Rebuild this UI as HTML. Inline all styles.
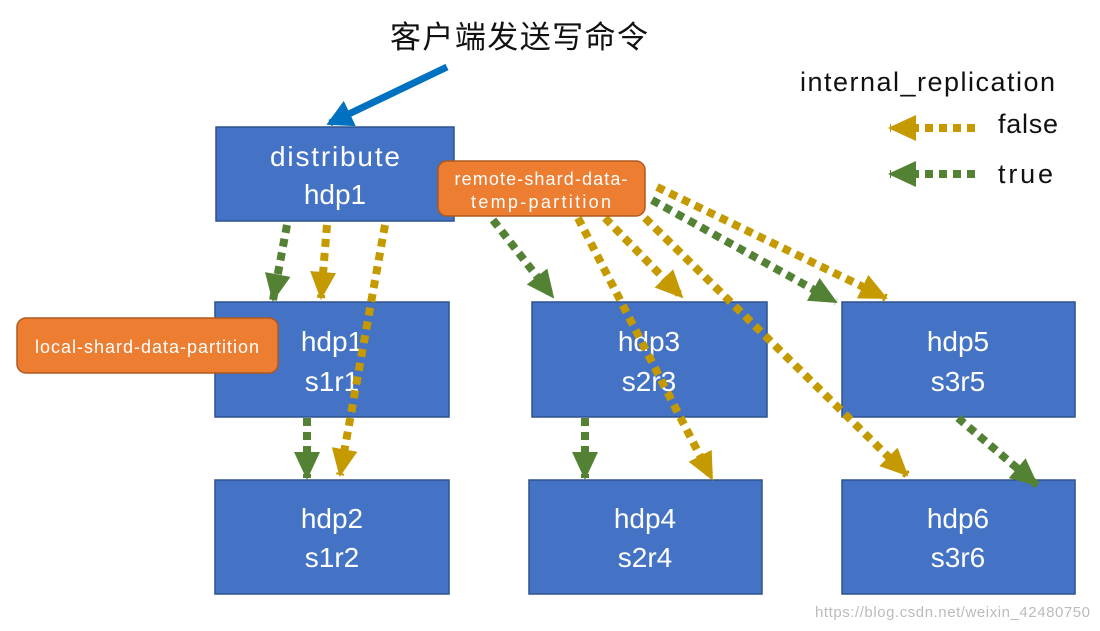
<!DOCTYPE html>
<html><head><meta charset="utf-8"><style>
body{margin:0;background:#fff;width:1100px;height:631px;overflow:hidden}
svg{display:block}
text{font-family:"Liberation Sans","Noto Sans CJK SC",sans-serif}
</style></head><body>
<svg width="1100" height="631" viewBox="0 0 1100 631">
<defs>
<marker id="g" markerUnits="userSpaceOnUse" markerWidth="34" markerHeight="34" refX="26" refY="13" orient="auto"><path d="M0,0 L28,13 L0,26 z" fill="#548235"/></marker>
<marker id="y" markerUnits="userSpaceOnUse" markerWidth="34" markerHeight="34" refX="26" refY="13" orient="auto"><path d="M0,0 L28,13 L0,26 z" fill="#C59A00"/></marker>
<marker id="b" markerUnits="userSpaceOnUse" markerWidth="34" markerHeight="34" refX="22" refY="14" orient="auto"><path d="M0,0 L26,14 L0,28 z" fill="#0070C0"/></marker>
</defs>
<text x="519" y="48" font-size="31" text-anchor="middle" fill="#111" textLength="258">客户端发送写命令</text>
<line x1="447" y1="67" x2="330" y2="123" stroke="#0070C0" stroke-width="7" marker-end="url(#b)"/>
<text x="800" y="91" font-size="27" fill="#111" textLength="255">internal_replication</text>
<text x="998" y="133" font-size="27" fill="#111" textLength="60">false</text>
<text x="998" y="183" font-size="27" fill="#111" textLength="55">true</text>
<g fill="#4472C4" stroke="#2F528F" stroke-width="1.5">
<rect x="216" y="127" width="238" height="94"/>
<rect x="215" y="302" width="234" height="115"/>
<rect x="532" y="302" width="235" height="115"/>
<rect x="842" y="302" width="233" height="115"/>
<rect x="215" y="480" width="234" height="114"/>
<rect x="529" y="480" width="233" height="114"/>
<rect x="842" y="480" width="233" height="114"/>
</g>
<g fill="#fff" font-size="28" text-anchor="middle">
<text x="335" y="166" textLength="130">distribute</text><text x="335" y="204">hdp1</text>
<text x="332" y="351">hdp1</text><text x="332" y="391">s1r1</text>
<text x="649" y="351">hdp3</text><text x="649" y="391">s2r3</text>
<text x="958" y="351">hdp5</text><text x="958" y="391">s3r5</text>
<text x="332" y="528">hdp2</text><text x="332" y="567">s1r2</text>
<text x="645" y="528">hdp4</text><text x="645" y="567">s2r4</text>
<text x="958" y="528">hdp6</text><text x="958" y="567">s3r6</text>
</g>
<g stroke-width="8" stroke-dasharray="8 6" fill="none">
<line x1="287" y1="225" x2="273" y2="300" stroke="#548235" marker-end="url(#g)"/>
<line x1="327" y1="225" x2="321" y2="298" stroke="#C59A00" marker-end="url(#y)"/>
<line x1="385" y1="225" x2="340" y2="475" stroke="#C59A00" marker-end="url(#y)"/>
<line x1="493" y1="220" x2="553" y2="297" stroke="#548235" marker-end="url(#g)"/>
<line x1="578" y1="218" x2="712" y2="479" stroke="#C59A00" marker-end="url(#y)"/>
<line x1="605" y1="218" x2="682" y2="297" stroke="#C59A00" marker-end="url(#y)"/>
<line x1="645" y1="218" x2="907" y2="475" stroke="#C59A00" marker-end="url(#y)"/>
<line x1="652" y1="200" x2="836" y2="302" stroke="#548235" marker-end="url(#g)"/>
<line x1="657" y1="187" x2="886" y2="298" stroke="#C59A00" marker-end="url(#y)"/>
<line x1="307" y1="418" x2="307" y2="478" stroke="#548235" marker-end="url(#g)"/>
<line x1="585" y1="418" x2="585" y2="478" stroke="#548235" marker-end="url(#g)"/>
<line x1="958" y1="418" x2="1037" y2="485" stroke="#548235" marker-end="url(#g)"/>
<line x1="975" y1="128" x2="890" y2="128" stroke="#C59A00" marker-end="url(#y)"/>
<line x1="975" y1="174" x2="890" y2="174" stroke="#548235" marker-end="url(#g)"/>
</g>
<rect x="438" y="161" width="207" height="55" rx="9" fill="#ED7D31" stroke="#AE5A21" stroke-width="1.5"/>
<text x="541" y="185" font-size="18" fill="#fff" text-anchor="middle" textLength="173">remote-shard-data-</text>
<text x="541" y="208" font-size="18" fill="#fff" text-anchor="middle" textLength="140">temp-partition</text>
<rect x="17" y="318" width="261" height="55" rx="9" fill="#ED7D31" stroke="#AE5A21" stroke-width="1.5"/>
<text x="147" y="353" font-size="18" fill="#fff" text-anchor="middle" textLength="224">local-shard-data-partition</text>
<text x="1090" y="617" font-size="15" fill="#bbb" text-anchor="end" textLength="275">https://blog.csdn.net/weixin_42480750</text>
</svg>
</body></html>
